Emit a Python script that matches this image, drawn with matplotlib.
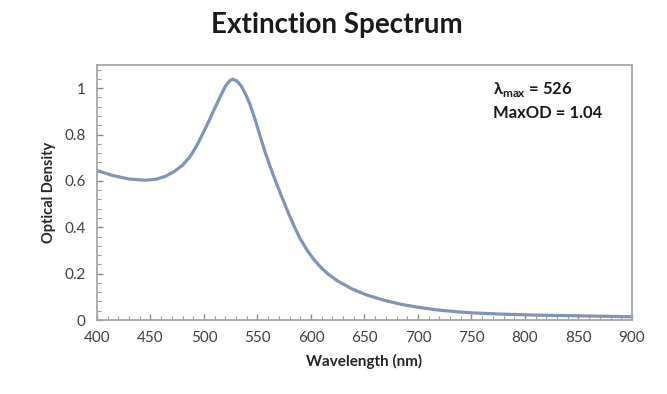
import matplotlib.pyplot as plt
from matplotlib.ticker import MultipleLocator

# 読み取った吸光スペクトル
wavelength = [400, 415, 430, 445, 455, 464, 472, 480, 487, 493, 499, 505, 510, 515, 520, 524,
              527, 531, 535, 539, 543, 548, 552, 557, 562, 567, 573, 579, 585, 590, 596, 602,
              608, 616, 625, 638, 652, 670, 686, 700, 717, 735, 750, 780, 811, 850, 875, 900]
optical_density = [0.645, 0.623, 0.608, 0.603, 0.607, 0.620, 0.640, 0.668, 0.705, 0.750, 0.805,
                   0.862, 0.913, 0.962, 1.008, 1.032, 1.039, 1.030, 1.008, 0.973, 0.930, 0.862,
                   0.800, 0.726, 0.660, 0.598, 0.528, 0.460, 0.397, 0.350, 0.304, 0.265, 0.233,
                   0.198, 0.168, 0.135, 0.108, 0.083, 0.066, 0.055, 0.044, 0.036, 0.031, 0.025,
                   0.021, 0.018, 0.016, 0.014]
x_ticks = [400, 450, 500, 550, 600, 650, 700, 750, 800, 850, 900]
y_ticks = [0, 0.2, 0.4, 0.6, 0.8, 1]
y_tick_labels = ["0", "0.2", "0.4", "0.6", "0.8", "1"]

plt.rcParams['font.family'] = ['Lato', 'DejaVu Sans']
plt.rcParams['mathtext.fontset'] = 'custom'
plt.rcParams['mathtext.rm'] = 'Lato:bold'
plt.rcParams['mathtext.bf'] = 'Lato:bold'

fig = plt.figure(figsize=(6.67, 3.94), dpi=100)
ax = fig.add_axes([0.1454, 0.1878, 0.8021, 0.6472])

ax.plot(wavelength, optical_density, color="#8094B8", linewidth=2.3,
        solid_capstyle="round", solid_joinstyle="round")

ax.set_xlim(400, 900)
ax.set_ylim(0, 1.1)
ax.set_xticks(x_ticks)
ax.set_yticks(y_ticks)
ax.set_yticklabels(y_tick_labels)
ax.xaxis.set_minor_locator(MultipleLocator(10))
ax.yaxis.set_minor_locator(MultipleLocator(0.04))

gray = "#A6A6A6"
for side in ax.spines.values():
    side.set_color(gray)
    side.set_linewidth(1.3)
ax.tick_params(which="major", direction="in", length=4.5, width=1, color="#8C8C8C",
               labelsize=11, labelcolor="#404040", pad=8)
ax.tick_params(which="minor", direction="in", length=3, width=0.8, color="#9E9E9E")
ax.tick_params(top=False, right=False, which="both")

ax.set_xlabel("Wavelength (nm)", fontsize=11, fontweight="bold", color="#262626", labelpad=6)
ax.set_ylabel("Optical Density", fontsize=10.5, fontweight="bold", color="#262626", labelpad=6)
fig.suptitle("Extinction Spectrum", fontsize=20, fontweight="bold", color="#1a1a1a",
             x=0.505, y=0.97)

ax.text(0.74, 0.902, r"λ$_{\mathrm{max}}$ = 526", transform=ax.transAxes,
        fontsize=12, fontweight="bold", color="#1a1a1a", va="center")
ax.text(0.74, 0.812, "MaxOD = 1.04", transform=ax.transAxes,
        fontsize=12, fontweight="bold", color="#1a1a1a", va="center")

fig.savefig("out.png", dpi=100)
